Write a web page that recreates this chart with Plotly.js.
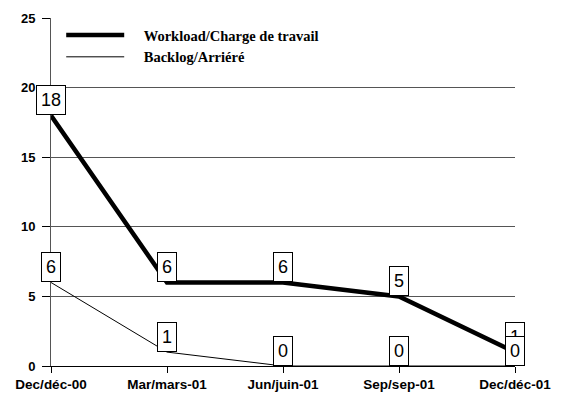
<!DOCTYPE html>
<html>
<head>
<meta charset="utf-8">
<script src="https://cdn.plot.ly/plotly-3.0.1.min.js"></script>
<style>html,body{margin:0;padding:0;background:#fff;}#chart{width:564px;height:396px;}</style>
</head>
<body>
<div id="chart"></div>
<script>
var categories = ["Dec/déc-00", "Mar/mars-01", "Jun/juin-01", "Sep/sep-01", "Dec/déc-01"];
var workload = [18, 6, 6, 5, 1];
var backlog = [6, 1, 0, 0, 0];
var yTicks = [0, 5, 10, 15, 20, 25];
var seriesNames = ["Workload/Charge de travail", "Backlog/Arriéré"];

var pad = "\u00a0\u00a0\u00a0\u00a0";
var traces = [
  {x: categories, y: workload, type: "scatter", mode: "lines", name: pad + seriesNames[0],
   legendgroup: "w", line: {color: "#000", width: 4.5}, cliponaxis: false},
  {x: categories, y: backlog, type: "scatter", mode: "lines", name: pad + seriesNames[1],
   legendgroup: "b", line: {color: "#000", width: 1}, cliponaxis: false}
];

function labels(vals) {
  return vals.map(function (v, i) {
    return {
      x: categories[i], y: v, xref: "x", yref: "y",
      text: String(v), showarrow: false,
      xanchor: "center", yanchor: "bottom",
      font: {family: "Liberation Sans, Arial, sans-serif", size: 18, color: "#000"},
      bgcolor: "#fff", bordercolor: "#000", borderwidth: 1, borderpad: 4
    };
  });
}

var layout = {
  width: 564, height: 396,
  margin: {l: 51, r: 49, t: 18, b: 30},
  paper_bgcolor: "#fff", plot_bgcolor: "#fff",
  showlegend: true,
  legend: {
    x: 0.022, y: 0.997, xanchor: "left", yanchor: "top",
    bgcolor: "rgba(255,255,255,0)", borderwidth: 0,
    itemwidth: 58, tracegroupgap: 4, traceorder: "normal",
    font: {family: "Liberation Serif, Times New Roman, serif", size: 14.5, color: "#000", weight: "bold"}
  },
  xaxis: {
    type: "category", range: [0, 4],
    showgrid: false, zeroline: false,
    showline: true, linecolor: "#000", linewidth: 1,
    ticks: "outside", ticklen: 6, tickcolor: "#000",
    tickfont: {family: "Liberation Sans, Arial, sans-serif", size: 13.5, color: "#000", weight: "bold"}
  },
  yaxis: {
    range: [0, 25], tickvals: yTicks, ticktext: yTicks.map(String),
    showgrid: true, gridcolor: "#555", gridwidth: 1,
    zeroline: false,
    showline: true, linecolor: "#555", linewidth: 1,
    ticks: "outside", ticklen: 8, tickcolor: "#000",
    ticklabelstandoff: 4,
    tickfont: {family: "Liberation Sans, Arial, sans-serif", size: 13, color: "#000", weight: "bold"}
  },
  annotations: labels(workload).concat(labels(backlog))
};

Plotly.newPlot("chart", traces, layout, {displayModeBar: false, staticPlot: true});
</script>
</body>
</html>
